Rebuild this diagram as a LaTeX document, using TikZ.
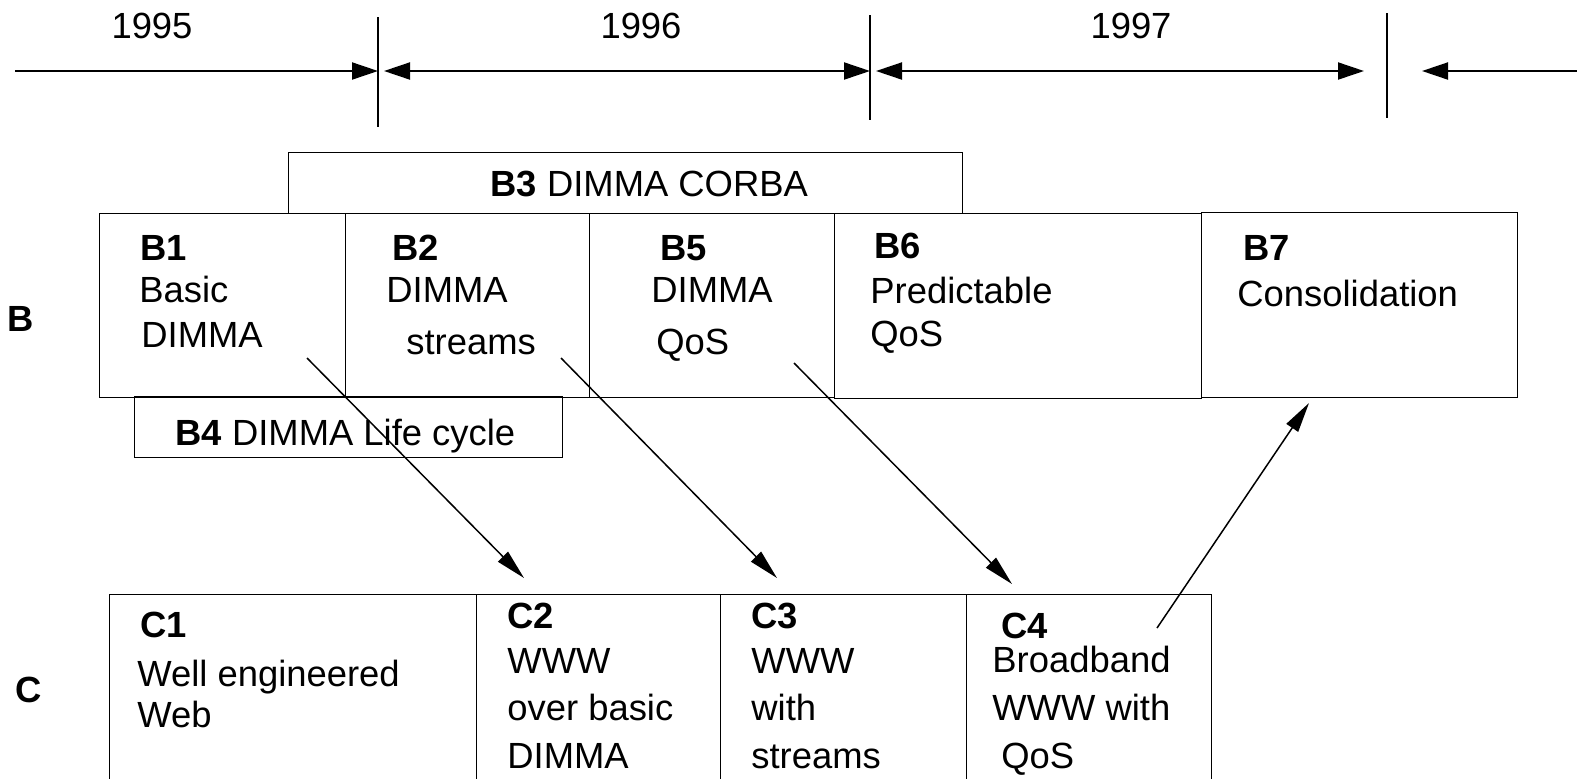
\documentclass[tikz,border=0pt]{standalone}
\usepackage{fontspec}
\setmainfont{Liberation Sans}
\usetikzlibrary{arrows.meta}

\begin{document}
\begin{tikzpicture}[x=0.5pt, y=-0.5pt,
    every node/.style={font=\fontsize{18.2}{22}\selectfont},
    box/.style={draw, line width=0.65pt, inner sep=0pt, anchor=north west},
    txt/.style={inner sep=0pt, anchor=base west},
    lbl/.style={txt, font=\fontsize{18.2}{22}\selectfont\bfseries},
    tick/.style={line width=0.8pt},
    span/.style={line width=1pt, -{Triangle[length=13pt,width=8.5pt]}},
    span2/.style={line width=1pt, {Triangle[length=13pt,width=8.5pt]}-{Triangle[length=13pt,width=8.5pt]}},
    link/.style={line width=0.75pt, -{Triangle[length=15pt,width=7pt]}}]

    \useasboundingbox (0,0) rectangle (1577,778);
    \clip (0,0) rectangle (1577,778);

    % years
    \node[inner sep=0pt, anchor=base] (y95) at (152,38) {1995};
    \node[inner sep=0pt, anchor=base] (y96) at (641,38) {1996};
    \node[inner sep=0pt, anchor=base] (y97) at (1131,38) {1997};

    % time line
    \foreach \x/\a/\b [count=\n] in {378/17/127, 870/15/120, 1387/13/118}
        \draw[tick] (\x,\a) coordinate (tt\n) -- (\x,\b) coordinate (tb\n);
    \coordinate (p0) at (15,71);
    \coordinate (p1) at (378,71);
    \coordinate (p1r) at (384,71);
    \coordinate (p2) at (870,71);
    \coordinate (p2r) at (876,71);
    \coordinate (p3) at (1364,71);
    \coordinate (p4) at (1422,71);
    \coordinate (p5) at (1577,71);
    \draw[span] (p0) -- (p1);
    \draw[span2] (p1r) -- (p2);
    \draw[span2] (p2r) -- (p3);
    \draw[span] (p5) -- (p4);

    % row labels
    \node[lbl, anchor=base] (rowB) at (21,331) {B};
    \node[lbl, anchor=base] (rowC) at (29,702) {C};

    % B boxes
    \node[box, minimum width=337pt, minimum height=30.5pt] (b3) at (288,152) {};
    \node[box, minimum width=123pt, minimum height=92pt] (b1) at (99,213) {};
    \node[box, minimum width=122pt, minimum height=92pt] (b2) at (345,213) {};
    \node[box, minimum width=122.5pt, minimum height=92pt] (b5) at (589,213) {};
    \node[box, minimum width=183.5pt, minimum height=92.5pt] (b6) at (834,213) {};
    \node[box, minimum width=158pt, minimum height=92.5pt] (b7) at (1201,212) {};
    \node[box, minimum width=214pt, minimum height=30.5pt] (b4) at (134,396) {};

    % C boxes
    \node[box, minimum width=183.5pt, minimum height=110pt] (c1) at (109,594) {};
    \node[box, minimum width=122pt, minimum height=110pt] (c2) at (476,594) {};
    \node[box, minimum width=123pt, minimum height=110pt] (c3) at (720,594) {};
    \node[box, minimum width=122.5pt, minimum height=110pt] (c4) at (966,594) {};

    % box titles
    \node[txt] (b3t) at (490,196) {\textbf{B3} DIMMA CORBA};
    \node[txt] (b4t) at (175,445) {\textbf{B4} DIMMA Life cycle};
    \foreach \x/\y/\t [count=\n] in {140/260/B1, 392/260/B2, 660/260/B5, 874/258/B6,
        1243/260/B7, 140/637/C1, 507/628/C2, 751/628/C3, 1001/638/C4}
        \node[lbl] (lab\n) at (\x,\y) {\t};

    % box texts
    \foreach \x/\y/\t [count=\n] in {139/302/Basic, 141/347/DIMMA,
        386/302/DIMMA, 406/354/streams,
        651/302/DIMMA, 656/354/QoS,
        870/303/Predictable, 870/346/QoS,
        1237/306/Consolidation,
        137/686/Well engineered, 137/727/Web,
        507/673/WWW, 507/720/over basic, 507/768/DIMMA,
        751/673/WWW, 751/720/with, 751/768/streams,
        992/672/Broadband, 992/720/WWW with, 1001/768/QoS}
        \node[txt] (txt\n) at (\x,\y) {\t};

    % dependencies
    \coordinate (s1) at (307,358);
    \coordinate (e1) at (524,578);
    \coordinate (s2) at (561,358);
    \coordinate (e2) at (777,578);
    \coordinate (s3) at (794,363);
    \coordinate (e3) at (1012,584);
    \coordinate (s4) at (1157,628);
    \coordinate (e4) at (1309,403);
    \foreach \i in {1,2,3,4}
        \draw[link] (s\i) -- (e\i);
\end{tikzpicture}
\end{document}
